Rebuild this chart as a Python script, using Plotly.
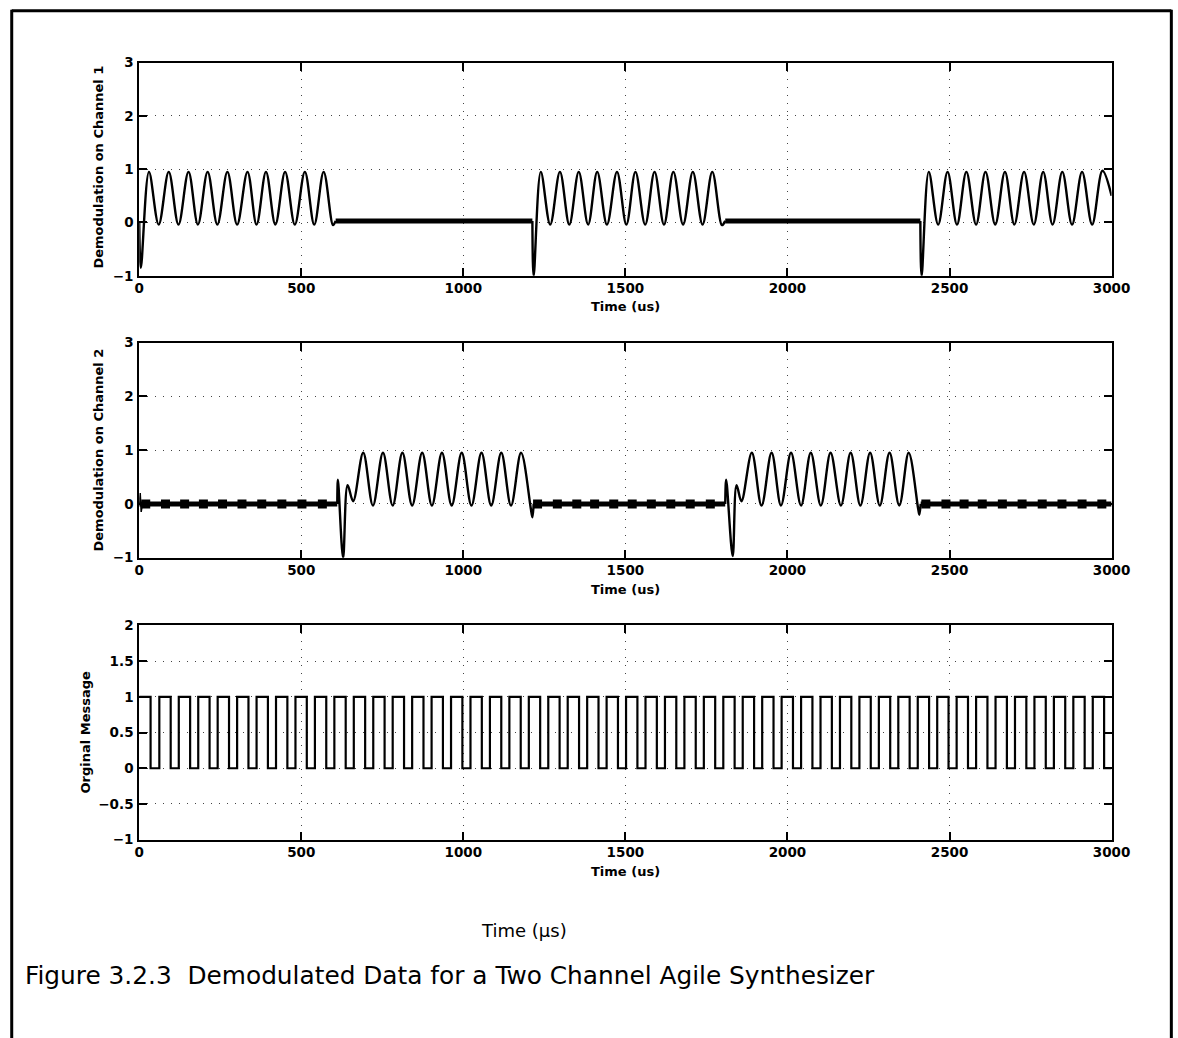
import plotly.graph_objects as go

# figure size; the page is photographed slightly shrunk (measured: x' = 0.9836 x + 2.25, y' = 0.9885 y + 6.2),
# so positions given below in reference-window pixels are pre-compensated in fx / fy
FW, FH = 1194, 1050
SX, BX = 0.9836, 2.25
SY, BY = 0.9885, 6.2

# ---------------- data ----------------
x_ticks = [0, 500, 1000, 1500, 2000, 2500, 3000]
demod_y_ticks = [-1, 0, 1, 2, 3]
msg_y_ticks = [-1, -0.5, 0, 0.5, 1, 1.5, 2]
msg_y_labels = ["\u22121", "\u22120.5", "0", "0.5", "1", "1.5", "2"]

# Channel 1 : three bursts (key points: spike, peaks, troughs), µs / volts
ch1_b1_t = [0, 5, 30, 60, 91, 121, 152, 181, 211, 241, 272, 302, 334, 362, 391, 420, 450, 480, 511, 540, 569, 598, 606]
ch1_b1_v = [0.0, -0.85, 0.95, -0.04, 0.95, -0.04, 0.95, -0.04, 0.95, -0.04, 0.95, -0.04, 0.95, -0.04, 0.95, -0.04, 0.95, -0.04, 0.95, -0.04, 0.95, -0.05, 0.03]
ch1_b2_t = [1213, 1217, 1239, 1268, 1298, 1327, 1356, 1385, 1413, 1443, 1474, 1503, 1531, 1561, 1590, 1619, 1648, 1678, 1708, 1738, 1768, 1798, 1808]
ch1_b2_v = [0.03, -1.0, 0.95, -0.04, 0.95, -0.04, 0.95, -0.04, 0.95, -0.04, 0.95, -0.04, 0.95, -0.04, 0.95, -0.04, 0.95, -0.04, 0.95, -0.04, 0.95, -0.05, 0.03]
ch1_b3_t = [2410, 2414, 2436, 2465, 2494, 2523, 2552, 2582, 2611, 2641, 2671, 2700, 2730, 2760, 2789, 2818, 2848, 2878, 2909, 2940, 2972, 3000]
ch1_b3_v = [0.03, -1.0, 0.95, -0.04, 0.95, -0.04, 0.95, -0.04, 0.95, -0.04, 0.95, -0.04, 0.95, -0.04, 0.95, -0.04, 0.95, -0.04, 0.95, -0.04, 0.97, 0.5]
# Channel 1 : quiet (cross-talk) segments
ch1_quiet_start = [606, 1808]
ch1_quiet_end = [1213, 2410]
ch1_quiet_level = 0.03

# Channel 2 : two bursts
ch2_b1_t = [611, 613, 629, 643, 660, 691, 721, 752, 782, 812, 842, 873, 903, 934, 964, 995, 1025, 1056, 1086, 1117, 1147, 1178, 1208, 1213, 1217]
ch2_b1_v = [0.0, 0.45, -1.0, 0.35, 0.05, 0.95, -0.03, 0.95, -0.03, 0.95, -0.03, 0.95, -0.03, 0.95, -0.03, 0.95, -0.03, 0.95, -0.03, 0.95, -0.03, 0.95, -0.08, -0.25, 0.0]
ch2_b2_t = [1808, 1811, 1831, 1843, 1858, 1890, 1920, 1951, 1980, 2011, 2042, 2072, 2103, 2133, 2165, 2195, 2225, 2255, 2285, 2315, 2345, 2374, 2403, 2407, 2411]
ch2_b2_v = [0.0, 0.45, -0.97, 0.35, 0.05, 0.95, -0.03, 0.95, -0.03, 0.95, -0.03, 0.95, -0.03, 0.95, -0.03, 0.95, -0.03, 0.95, -0.03, 0.95, -0.03, 0.95, -0.08, -0.2, 0.0]
# Channel 2 : quiet segments and the residual blobs in them
ch2_quiet_start = [0, 1217, 2411]
ch2_quiet_end = [611, 1808, 3000]
ch2_quiet_level = 0.0
ch2_start_glitch_t = [0, 3, 6, 10]
ch2_start_glitch_v = [0.0, 0.2, -0.15, 0.0]
ch2_blob_t = [20, 81, 140, 198, 257, 317, 378, 440, 502, 565,
              1229, 1290, 1350, 1405, 1464, 1521, 1580, 1640, 1700, 1762,
              2427, 2489, 2545, 2601, 2663, 2724, 2786, 2847, 2909, 2970]

# Original message: rising / falling edge times (µs)
msg_rise = [0, 62, 122, 182, 242, 302, 362, 422, 482, 542, 602, 662, 722, 782, 842, 902, 962, 1022, 1082, 1142,
            1202, 1262, 1322, 1382, 1442, 1502, 1562, 1622, 1682, 1742, 1802, 1862, 1922, 1982, 2042, 2102, 2162,
            2222, 2282, 2342, 2402, 2462, 2522, 2582, 2642, 2702, 2762, 2822, 2882, 2942]
msg_fall = [35, 97, 157, 217, 277, 337, 397, 457, 517, 577, 637, 697, 757, 817, 877, 937, 997, 1057, 1117, 1177,
            1237, 1297, 1357, 1417, 1477, 1537, 1597, 1657, 1717, 1777, 1837, 1897, 1957, 2017, 2077, 2137, 2197,
            2257, 2317, 2377, 2437, 2497, 2557, 2617, 2677, 2737, 2797, 2857, 2917, 2977]

# ---------------- figure ----------------
def fx(px):  # reference-window pixel -> paper
    return ((px - BX) / SX) / FW


def fy(py):
    return 1 - ((py - BY) / SY) / FH


X_DOM = [fx(137), fx(1113)]
DOMS = {1: [fy(275), fy(61)], 2: [fy(558), fy(342)], 3: [fy(841), fy(626)]}

fig = go.Figure()


def add(xs, ys, k, shape="linear", width=2, smoothing=None, mode="lines", marker=None):
    line = dict(color="black", width=width, shape=shape)
    if smoothing is not None:
        line["smoothing"] = smoothing
    tr = go.Scatter(x=xs, y=ys, mode=mode, line=line, xaxis="x" if k == 1 else f"x{k}",
                    yaxis="y" if k == 1 else f"y{k}", showlegend=False, hoverinfo="skip")
    if marker:
        tr.marker = marker
    fig.add_trace(tr)


# channel 1
for t, v in [(ch1_b1_t, ch1_b1_v), (ch1_b2_t, ch1_b2_v), (ch1_b3_t, ch1_b3_v)]:
    add(t, v, 1, shape="spline", smoothing=1.0, width=2.4)
for s, e in zip(ch1_quiet_start, ch1_quiet_end):
    add([s, e], [ch1_quiet_level, ch1_quiet_level], 1, width=5)

# channel 2
for t, v in [(ch2_b1_t, ch2_b1_v), (ch2_b2_t, ch2_b2_v)]:
    add(t, v, 2, shape="spline", smoothing=1.0, width=2.4)
for s, e in zip(ch2_quiet_start, ch2_quiet_end):
    add([s, e], [ch2_quiet_level, ch2_quiet_level], 2, width=5)
add(ch2_start_glitch_t, ch2_start_glitch_v, 2, width=1.5)
add(ch2_blob_t, [ch2_quiet_level] * len(ch2_blob_t), 2, mode="markers",
    marker=dict(symbol="square", size=9, color="black"))

# message (step)
mx, my = [], []
for r, f in zip(msg_rise, msg_fall):
    mx += [r, f]
    my += [1, 0]
mx.append(3000)
my.append(0)
add(mx, my, 3, shape="hv", width=2.2)

TICKFONT = dict(family="DejaVu Sans", size=13.5, color="black", weight="bold")
GRID = dict(showgrid=True, gridcolor="#444", gridwidth=1, griddash="1px,7px")

for k in (1, 2, 3):
    xa = dict(domain=X_DOM, range=[0, 3000], tickvals=x_ticks, ticks="inside", ticklen=8,
              tickwidth=1.5, tickcolor="black", showline=True, linecolor="black", linewidth=2,
              mirror="ticks", zeroline=False, tickfont=TICKFONT, ticklabelstandoff=-1,
              anchor="y" if k == 1 else f"y{k}", **GRID)
    if k == 3:
        ya = dict(range=[-1, 2], tickvals=msg_y_ticks, ticktext=msg_y_labels)
    else:
        ya = dict(range=[-1, 3], tickvals=demod_y_ticks)
    ya.update(domain=DOMS[k], ticks="inside", ticklen=8, tickwidth=1.5, tickcolor="black",
              showline=True, linecolor="black", linewidth=2, mirror="ticks", zeroline=False,
              tickfont=TICKFONT, ticklabelstandoff=1, anchor="x" if k == 1 else f"x{k}", **GRID)
    fig.update_layout(**{("xaxis" if k == 1 else f"xaxis{k}"): xa,
                         ("yaxis" if k == 1 else f"yaxis{k}"): ya})

ann = []
TITLEFONT = dict(family="DejaVu Sans", size=13, color="black", weight="bold")
for txt, x, y in [("Demodulation on Channel 1", 96, 166), ("Demodulation on Channel 2", 96, 450),
                  ("Orginal Message", 83, 733)]:
    ann.append(dict(text=txt, x=fx(x), y=fy(y), xref="paper", yref="paper", showarrow=False,
                    textangle=-90, font=TITLEFONT, xanchor="center", yanchor="middle"))
for y in (306, 590, 873):
    ann.append(dict(text="Time (us)", x=fx(625), y=fy(y), xref="paper", yref="paper", showarrow=False,
                    font=TITLEFONT, xanchor="center", yanchor="middle"))
ann.append(dict(text="Time (µs)", x=fx(523), y=fy(932), xref="paper", yref="paper", showarrow=False,
                font=dict(family="DejaVu Sans", size=18, color="black"), xanchor="center", yanchor="middle"))
ann.append(dict(text="Figure 3.2.3  Demodulated Data for a Two Channel Agile Synthesizer", x=fx(20), y=fy(977),
                xref="paper", yref="paper", showarrow=False,
                font=dict(family="DejaVu Sans", size=24.8, color="black"), xanchor="left", yanchor="middle"))

shapes = [
    dict(type="line", xref="paper", yref="paper", x0=fx(9), x1=fx(9), y0=fy(8), y1=0,
         line=dict(color="black", width=3)),
    dict(type="line", xref="paper", yref="paper", x0=fx(9), x1=fx(1173), y0=fy(9), y1=fy(9),
         line=dict(color="black", width=3)),
    dict(type="line", xref="paper", yref="paper", x0=fx(1173), x1=fx(1173), y0=fy(8), y1=0,
         line=dict(color="black", width=3)),
]

fig.update_layout(width=FW, height=FH, margin=dict(l=0, r=0, t=0, b=0), paper_bgcolor="white",
                  plot_bgcolor="white", annotations=ann, shapes=shapes, showlegend=False)

fig.write_html("out.html")
